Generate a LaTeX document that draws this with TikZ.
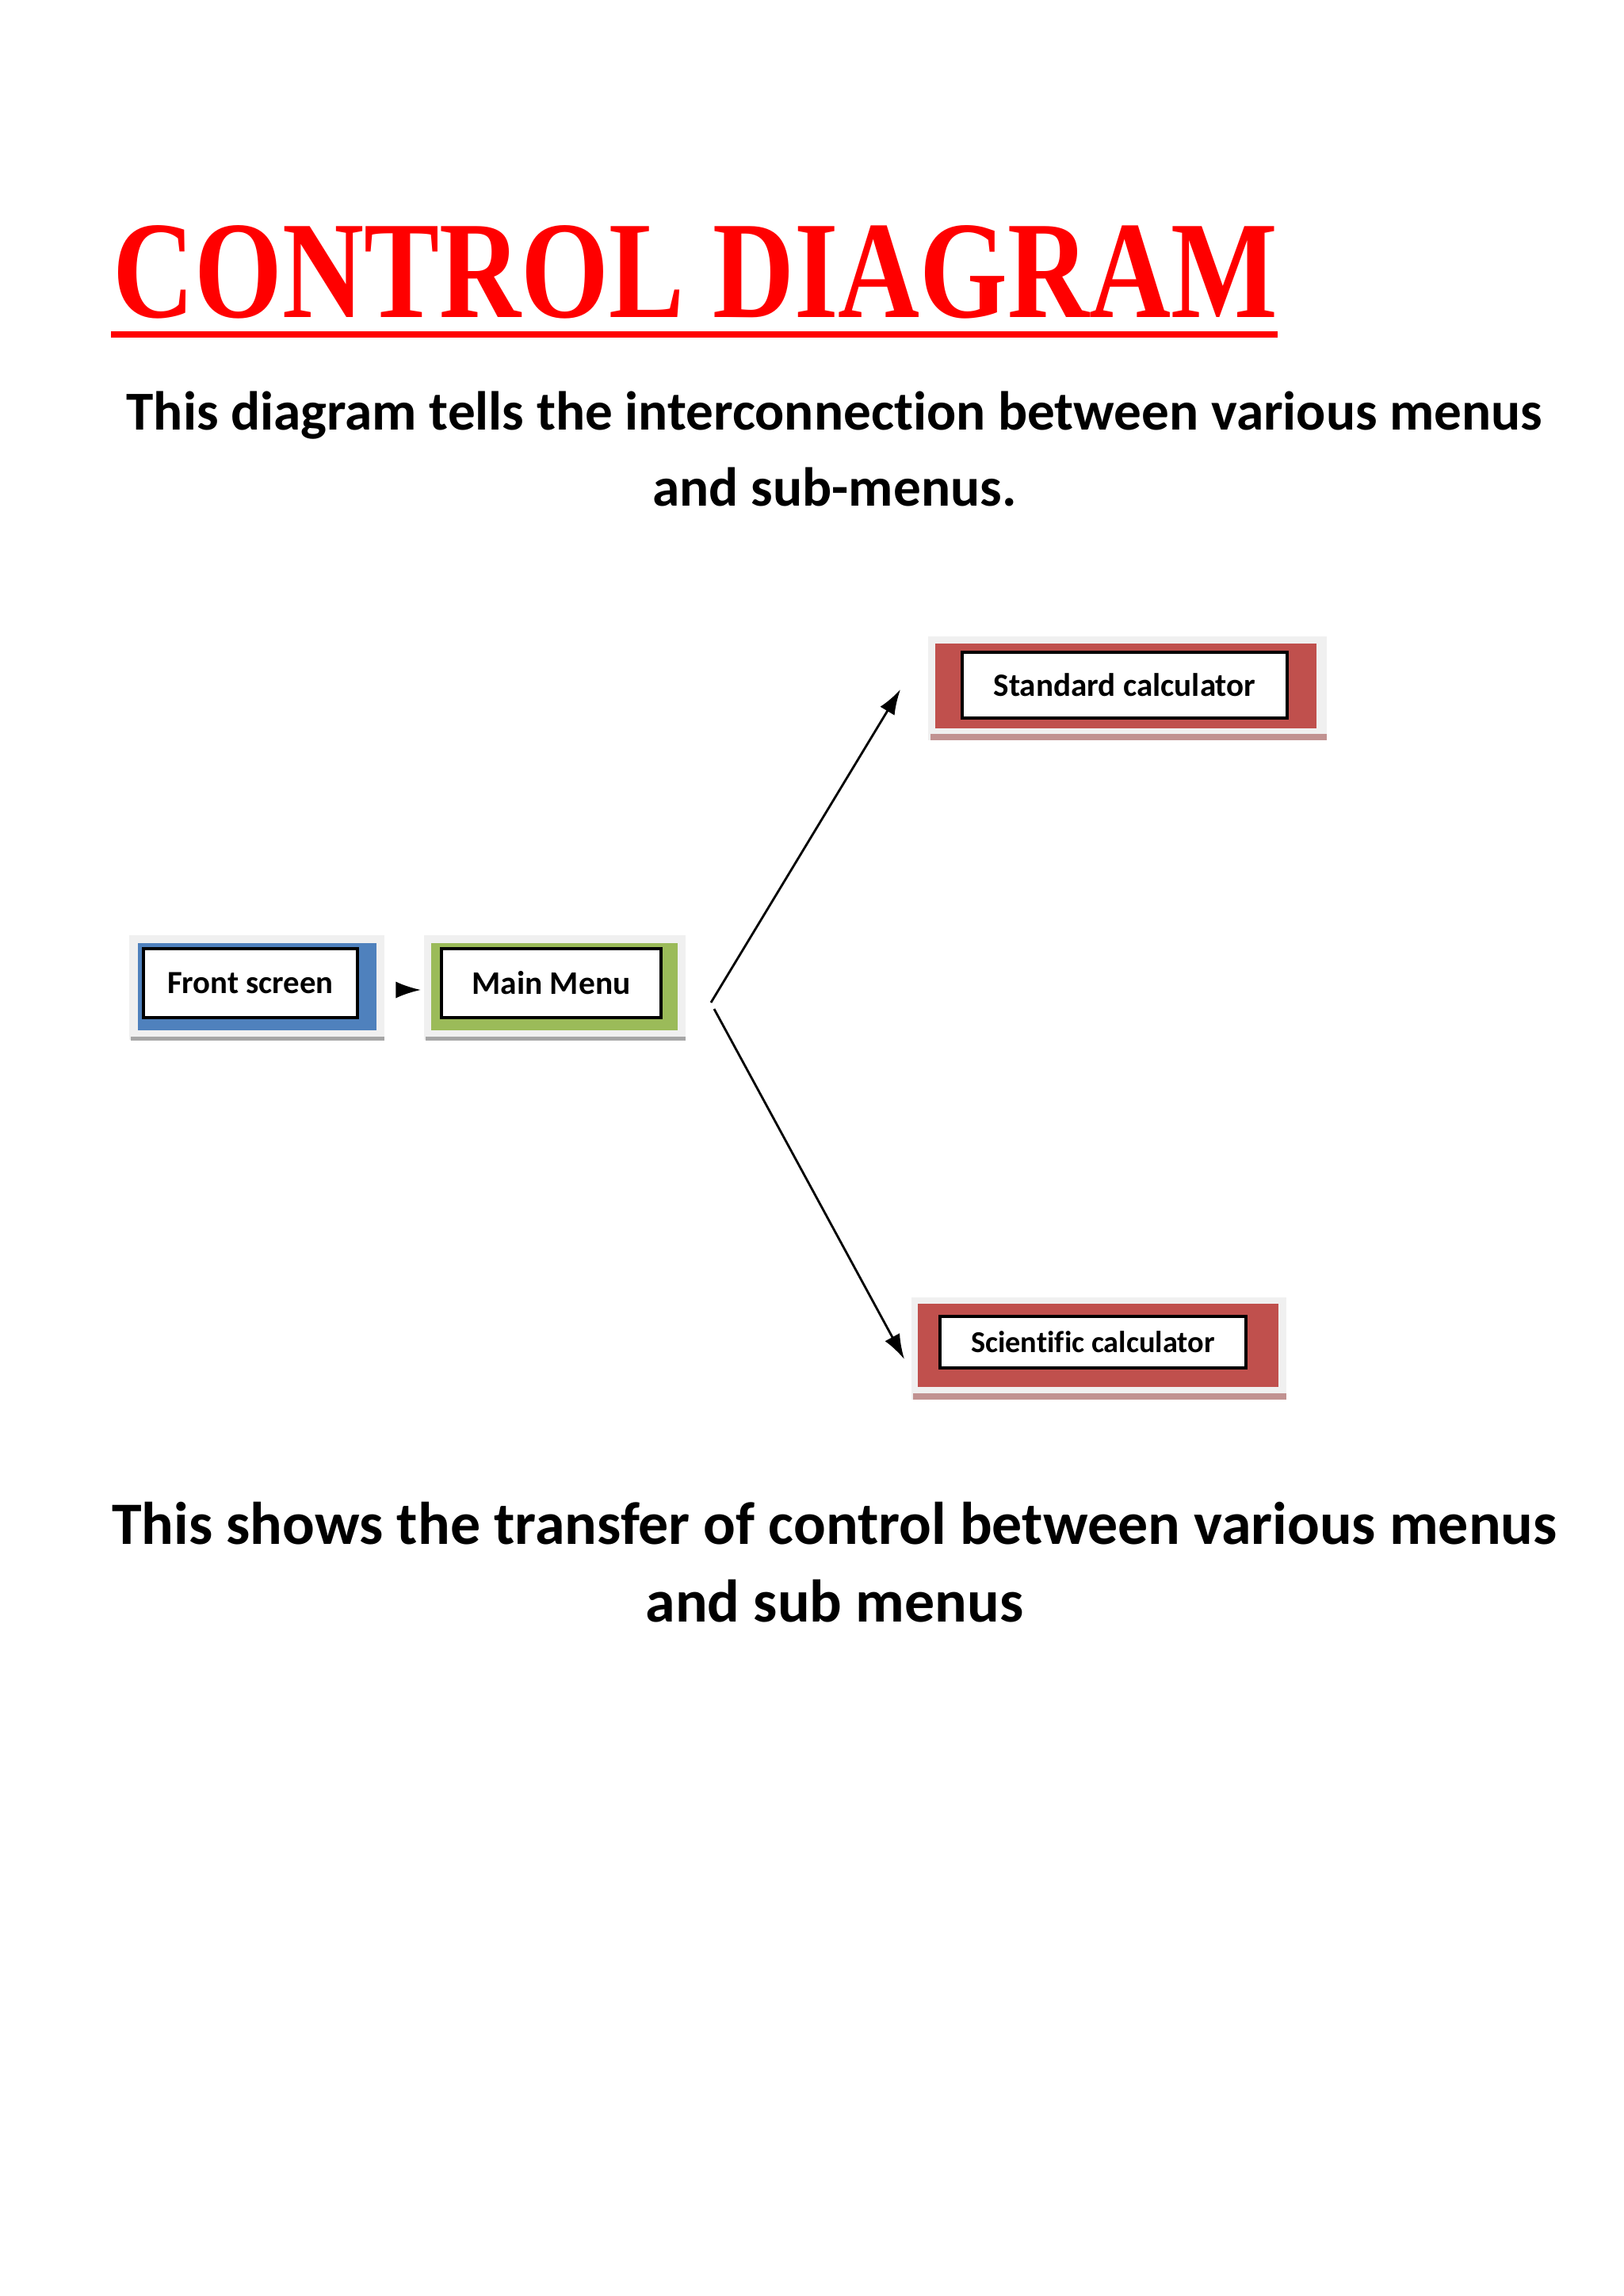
\documentclass[tikz,border=0pt]{standalone}
\usepackage{fontspec}
\setmainfont[Ligatures=NoCommon]{Carlito}
\newfontfamily\titlefont{Liberation Serif}
\usetikzlibrary{arrows.meta}
\definecolor{cblue}{HTML}{4F81BD}
\definecolor{cgreen}{HTML}{9BBB59}
\definecolor{cred}{HTML}{C0504D}
\definecolor{frameg}{HTML}{F0F0F0}
\begin{document}
\begin{tikzpicture}[x=1cm,y=1cm,
  inner/.style={draw=black,line width=1.2pt,fill=white,font=\bfseries},
  conn/.style={-{Latex[length=9pt,width=6pt]},line width=0.8pt}]
\useasboundingbox[fill=white] (0,0) rectangle (20.48,-28.97);
% title
\node[anchor=south west,inner sep=0,text=red] (title) at (1.42,-4.03)
  {\resizebox{14.69cm}{1.16cm}{\titlefont\bfseries CONTROL DIAGRAM}};
\fill[red] (1.40,-4.18) rectangle (16.12,-4.26);
\node[font=\fontsize{19.7}{23}\selectfont\bfseries] (t1) at (10.53,-5.24) {This diagram tells the interconnection between various menus};
\node[font=\fontsize{19.7}{23}\selectfont\bfseries] (t2) at (10.53,-6.14) {and sub-menus.};
% Front screen
\fill[frameg] (1.63,-11.80) rectangle (4.85,-13.12);
\fill[gray!70] (1.65,-13.08) rectangle (4.85,-13.13);
\fill[cblue] (1.74,-11.90) rectangle (4.75,-13.00);
\node[inner,minimum width=2.70cm,minimum height=0.87cm,font=\fontsize{11.6}{13}\selectfont\bfseries] (fs) at (3.16,-12.405) {Front screen};
% Main menu
\fill[frameg] (5.35,-11.80) rectangle (8.65,-13.12);
\fill[gray!70] (5.37,-13.08) rectangle (8.65,-13.13);
\fill[cgreen] (5.44,-11.90) rectangle (8.55,-13.00);
\node[inner,minimum width=2.77cm,minimum height=0.87cm,font=\fontsize{11.8}{13}\selectfont\bfseries] (mm) at (6.955,-12.405) {Main Menu};
% Standard
\fill[frameg] (11.71,-8.03) rectangle (16.74,-9.34);
\fill[cred!60!gray!70] (11.74,-9.26) rectangle (16.74,-9.34);
\fill[cred] (11.80,-8.12) rectangle (16.61,-9.19);
\node[inner,minimum width=4.10cm,minimum height=0.83cm,font=\fontsize{11.7}{13}\selectfont\bfseries] (sc) at (14.19,-8.645) {Standard calculator};
% Scientific
\fill[frameg] (11.50,-16.37) rectangle (16.23,-17.66);
\fill[cred!60!gray!70] (11.52,-17.58) rectangle (16.23,-17.66);
\fill[cred] (11.58,-16.45) rectangle (16.13,-17.50);
\node[inner,minimum width=3.86cm,minimum height=0.65cm,font=\fontsize{10.9}{12}\selectfont\bfseries] (sci) at (13.79,-16.935) {Scientific calculator};
% connectors
\coordinate (a1) at (5.03,-12.49);
\coordinate (a2) at (5.31,-12.49);
\draw[conn] (a1) -- (a2);
\coordinate (m1) at (8.97,-12.65);
\coordinate (s1) at (11.36,-8.70);
\coordinate (m2) at (9.01,-12.73);
\coordinate (s2) at (11.41,-17.15);
\draw[conn] (m1) -- (s1);
\draw[conn] (m2) -- (s2);
% bottom text
\node[font=\fontsize{21.6}{25}\selectfont\bfseries] (b1) at (10.53,-19.22) {This shows the transfer of control between various menus};
\node[font=\fontsize{21.6}{25}\selectfont\bfseries] (b2) at (10.53,-20.20) {and sub menus};
\end{tikzpicture}
\end{document}
